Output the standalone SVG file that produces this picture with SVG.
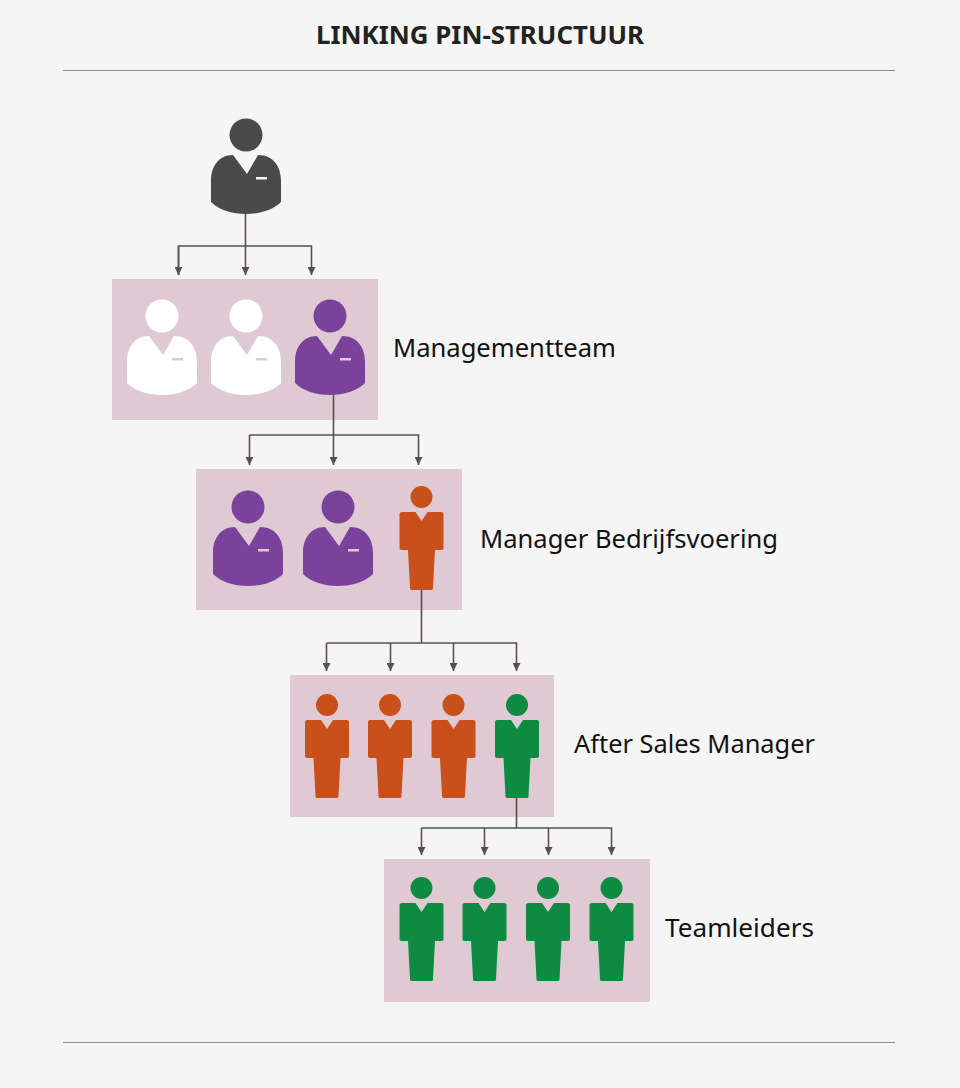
<svg xmlns="http://www.w3.org/2000/svg" width="960" height="1088" viewBox="0 0 960 1088">
<style>
text{font-family:"Noto Sans","Open Sans","Liberation Sans",sans-serif;fill:#111}
.title{font-size:25px;font-weight:700;text-anchor:middle;fill:#222}
.lab{font-size:25.5px}
.panel{fill:#dfcad4}
.rule{stroke:#8d8d8d;stroke-width:1;fill:none}
.con{stroke:#55514f;stroke-width:1.6;fill:none}
.dark{fill:#4b4a4b}.white{fill:#fff}.purple{fill:#7b429c}.orange{fill:#c9501a}.green{fill:#0f8a43}
</style>
<defs>
<marker id="arr" markerUnits="userSpaceOnUse" markerWidth="9" markerHeight="8" refX="8" refY="4" orient="auto"><path d="M0 0L8 4L0 8Z" fill="#55514f"/></marker>
<g id="wide">
<circle cx="0" cy="0" r="16.5"/>
<path fill-rule="evenodd" d="M-13 20L1 39L12 20C27 20 35 31 35 46V67C27 75 14 79 0 79C-14 79 -27 75 -35 67V46C-35 31 -27 20 -13 20ZM10 42V44.500H21V42Z"/>
</g>
<g id="narrow">
<circle cx="0" cy="0" r="11"/>
<path d="M-6 15L0 24L6 15H20C21 15 22 16 22 17V51C22 52 21 53 20 53H13.500L11.500 91C11.500 92 11 93 10 93H-10C-11 93 -11.500 92 -11.500 91L-13.500 53H-20C-21 53 -22 52 -22 51V17C-22 16 -21 15 -20 15Z"/>
</g>
</defs>
<rect width="960" height="1088" fill="#f5f5f5"/>
<g id="header">
<text class="title" x="480" y="44" textLength="328" lengthAdjust="spacingAndGlyphs">LINKING PIN-STRUCTUUR</text>
<line class="rule" x1="63" y1="70.500" x2="895" y2="70.500"/>
<line class="rule" x1="63" y1="1042.500" x2="895" y2="1042.500"/>
</g>
<g id="panels">
<rect class="panel" x="112" y="279" width="266" height="141"/>
<rect class="panel" x="196" y="469" width="266" height="141"/>
<rect class="panel" x="290" y="675" width="264" height="142"/>
<rect class="panel" x="384" y="859" width="266" height="143"/>
</g>
<g id="connectors">
<path class="con" d="M245.500 214V246"/>
<path class="con" d="M178.500 275V246H311.500V275" marker-end="url(#arr)"/>
<path class="con" d="M178.500 246V275" marker-end="url(#arr)"/>
<path class="con" d="M245.500 246V275" marker-end="url(#arr)"/>
<path class="con" d="M333.500 394V435"/>
<path class="con" d="M249.500 435H418.500V465" marker-end="url(#arr)"/>
<path class="con" d="M249.500 435V465" marker-end="url(#arr)"/>
<path class="con" d="M333.500 435V465" marker-end="url(#arr)"/>
<path class="con" d="M421.500 590V643"/>
<path class="con" d="M326.500 643H516.500V671" marker-end="url(#arr)"/>
<path class="con" d="M326.500 643V671" marker-end="url(#arr)"/>
<path class="con" d="M390.500 643V671" marker-end="url(#arr)"/>
<path class="con" d="M453.500 643V671" marker-end="url(#arr)"/>
<path class="con" d="M516.500 798V828"/>
<path class="con" d="M421.500 828H611.500V855" marker-end="url(#arr)"/>
<path class="con" d="M421.500 828V855" marker-end="url(#arr)"/>
<path class="con" d="M484.500 828V855" marker-end="url(#arr)"/>
<path class="con" d="M548.500 828V855" marker-end="url(#arr)"/>
</g>
<g id="top-manager"><use href="#wide" x="246" y="135" class="dark"/></g>
<g id="managementteam">
<use href="#wide" x="162" y="316" class="white"/>
<use href="#wide" x="246" y="316" class="white"/>
<use href="#wide" x="330" y="316" class="purple"/>
<text class="lab" x="393" y="357" textLength="223" lengthAdjust="spacingAndGlyphs">Managementteam</text>
</g>
<g id="manager-bedrijfsvoering">
<use href="#wide" x="248" y="507" class="purple"/>
<use href="#wide" x="338" y="507" class="purple"/>
<use href="#narrow" x="421.500" y="497" class="orange"/>
<text class="lab" x="480" y="548" textLength="298" lengthAdjust="spacingAndGlyphs">Manager Bedrijfsvoering</text>
</g>
<g id="after-sales-manager">
<use href="#narrow" x="327" y="705" class="orange"/>
<use href="#narrow" x="390" y="705" class="orange"/>
<use href="#narrow" x="453.500" y="705" class="orange"/>
<use href="#narrow" x="517" y="705" class="green"/>
<text class="lab" x="574" y="753" textLength="241" lengthAdjust="spacingAndGlyphs">After Sales Manager</text>
</g>
<g id="teamleiders">
<use href="#narrow" x="421.500" y="888" class="green"/>
<use href="#narrow" x="484.500" y="888" class="green"/>
<use href="#narrow" x="548" y="888" class="green"/>
<use href="#narrow" x="611.500" y="888" class="green"/>
<text class="lab" x="665" y="937" textLength="149" lengthAdjust="spacingAndGlyphs">Teamleiders</text>
</g>
</svg>
